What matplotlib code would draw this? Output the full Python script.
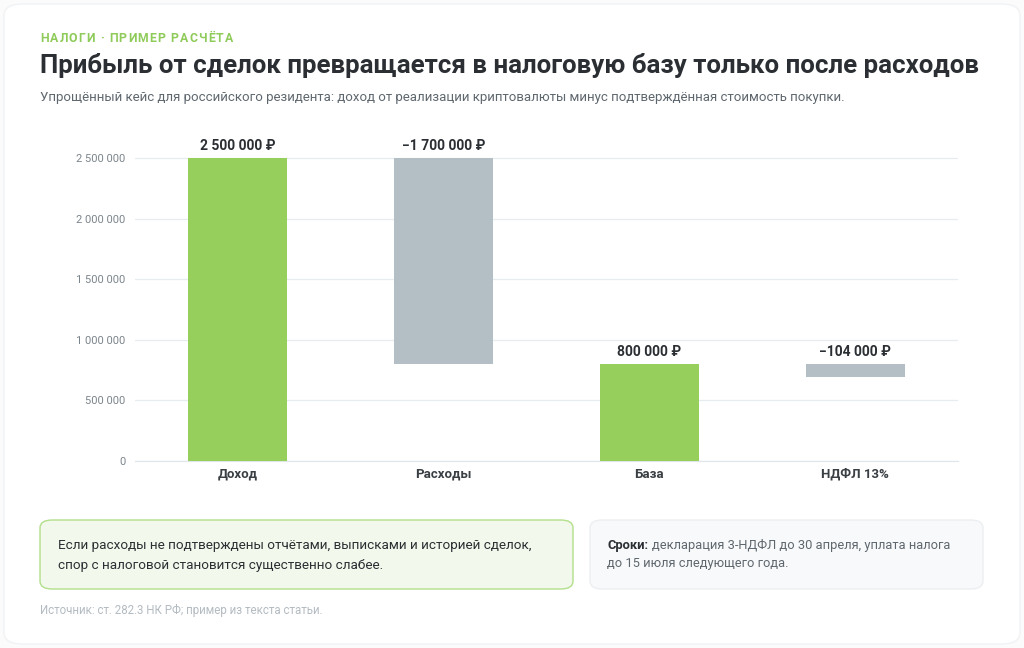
import matplotlib.pyplot as plt
from matplotlib.patches import FancyBboxPatch
from matplotlib.ticker import FuncFormatter

plt.rcParams['font.family'] = ['Roboto', 'DejaVu Sans']

# данные
categories = ['Доход', 'Расходы', 'База', 'НДФЛ 13%']
values = [2500000, -1700000, 800000, -104000]
is_total = [True, False, True, False]
yticks = [0, 500000, 1000000, 1500000, 2000000, 2500000]

green = '#97cf5c'
grey = '#b3bec5'

W, H = 1024, 648
fig = plt.figure(figsize=(W / 100, H / 100), dpi=100)
fig.patch.set_facecolor('#fbfbfb')


def fx(px):
    return px / W


def fy(py):
    return 1 - py / H


card = FancyBboxPatch((fx(4), fy(644)), fx(1016), (640) / H,
                      boxstyle='round,pad=0,rounding_size=0.018',
                      transform=fig.transFigure, facecolor='white',
                      edgecolor='#f0f2f4', linewidth=1, zorder=-5)
fig.patches.append(card)

# бары водопада
bottoms, heights, colors = [], [], []
running = 0
for v, tot in zip(values, is_total):
    if tot:
        bottoms.append(0)
        heights.append(v)
        running = v
        colors.append(green)
    else:
        running_new = running + v
        bottoms.append(running_new)
        heights.append(-v)
        running = running_new
        colors.append(grey)

ax = fig.add_axes([fx(135), 187 / H, fx(958 - 135), 321 / H])
ax.set_facecolor('none')
x = range(len(categories))
ax.bar(x, heights, bottom=bottoms, width=0.48, color=colors, zorder=3)

for i, v in enumerate(values):
    top = bottoms[i] + heights[i]
    s = f'{abs(v):,}'.replace(',', ' ') + ' ₽'
    if v < 0:
        s = '−' + s
    ax.annotate(s, (i, top), xytext=(0, 3.5), textcoords='offset points',
                ha='center', va='bottom', fontsize=10, fontweight='bold',
                color='#2b2f33')

ax.set_xlim(-0.5, len(categories) - 0.5)
ax.set_ylim(0, 2650000)
ax.set_yticks(yticks)
ax.yaxis.set_major_formatter(FuncFormatter(lambda v, p: f'{int(v):,}'.replace(',', ' ')))
ax.grid(axis='y', color='#e6ecef', linewidth=0.9, zorder=0)
ax.set_xticks(list(x))
ax.set_xticklabels(categories, fontsize=9.5, fontweight='bold', color='#3a3f44')
ax.tick_params(axis='y', length=0, labelsize=8, labelcolor='#7b848b', pad=7)
ax.tick_params(axis='x', length=0, pad=5)
for sp in ['top', 'right', 'left']:
    ax.spines[sp].set_visible(False)
ax.spines['bottom'].set_color('#dfe6ea')

r = fig.canvas.get_renderer()

# надпись с разрядкой
kicker = 'НАЛОГИ · ПРИМЕР РАСЧЁТА'
xpos = 40
for ch in kicker:
    t = fig.text(fx(xpos), fy(38), ch, fontsize=8.8, fontweight='bold',
                 color='#8fcb5a', va='center')
    w = t.get_window_extent(renderer=r).width if ch != ' ' else 2.6
    xpos += w + 1.2

fig.text(fx(40), fy(66), 'Прибыль от сделок превращается в налоговую базу только после расходов',
         fontsize=18.6, fontweight='bold', color='#2b2f33', va='center')
fig.text(fx(40), fy(97), 'Упрощённый кейс для российского резидента: доход от реализации криптовалюты минус подтверждённая стоимость покупки.',
         fontsize=9.5, color='#5f676e', va='center')

# блоки внизу
box1 = FancyBboxPatch((fx(40), fy(589)), fx(533), 69 / H,
                      boxstyle='round,pad=0,rounding_size=0.012',
                      transform=fig.transFigure, facecolor='#f2f9ec',
                      edgecolor='#b2df8a', linewidth=1)
box2 = FancyBboxPatch((fx(590), fy(589)), fx(393), 69 / H,
                      boxstyle='round,pad=0,rounding_size=0.012',
                      transform=fig.transFigure, facecolor='#f8f9fa',
                      edgecolor='#eceff1', linewidth=1)
fig.patches.extend([box1, box2])

fig.text(fx(58), fy(546), 'Если расходы не подтверждены отчётами, выписками и историей сделок,',
         fontsize=9.7, color='#2b2f33', va='center')
fig.text(fx(58), fy(565), 'спор с налоговой становится существенно слабее.',
         fontsize=9.7, color='#2b2f33', va='center')

t = fig.text(fx(607), fy(545), 'Сроки:', fontsize=9.3, fontweight='bold',
             color='#2b2f33', va='center')
bb = t.get_window_extent(renderer=r)
fig.text(bb.x1 / W + fx(4), fy(545), 'декларация 3-НДФЛ до 30 апреля, уплата налога',
         fontsize=9.3, color='#5f676e', va='center')
fig.text(fx(607), fy(563), 'до 15 июля следующего года.',
         fontsize=9.3, color='#5f676e', va='center')

fig.text(fx(40), fy(610), 'Источник: ст. 282.3 НК РФ; пример из текста статьи.',
         fontsize=8.3, color='#b3bbc1', va='center')

fig.savefig('out.png', dpi=100, facecolor=fig.get_facecolor())
